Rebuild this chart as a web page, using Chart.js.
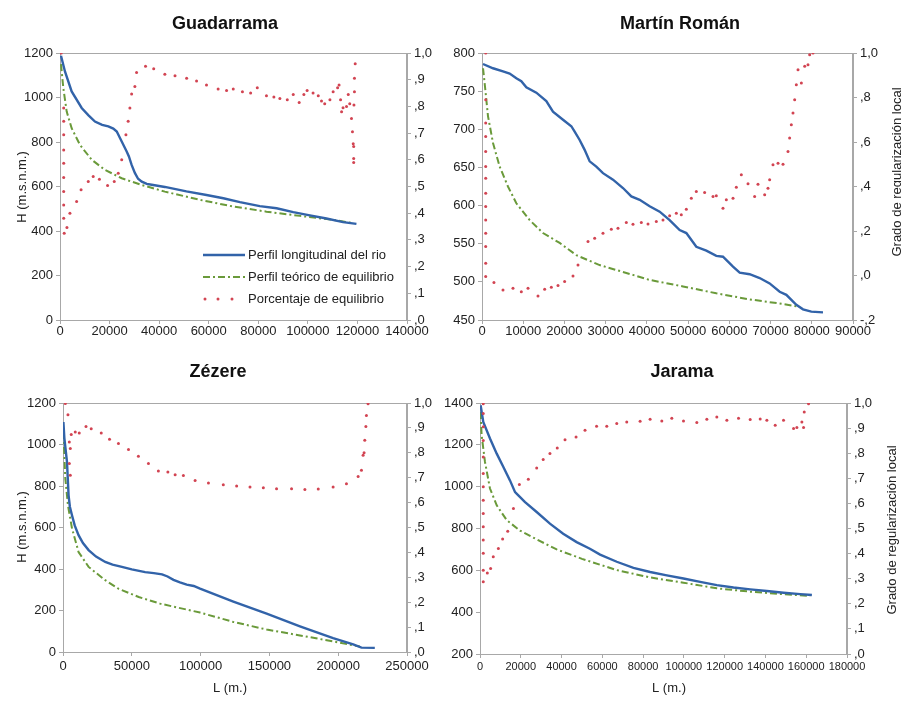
<!DOCTYPE html>
<html><head><meta charset="utf-8">
<script src="https://cdn.jsdelivr.net/npm/chart.js@4.4.1/dist/chart.umd.min.js"></script>
<style>
html,body{margin:0;padding:0;background:#fff;}
body{width:901px;height:702px;position:relative;overflow:hidden;}
canvas{position:absolute;}
</style></head>
<body>
<canvas id="c1" width="450" height="340" style="left:0;top:0"></canvas>
<canvas id="c3" width="440" height="362" style="left:0;top:340px"></canvas>
<canvas id="c2" width="461" height="340" style="left:440px;top:0"></canvas>
<canvas id="c4" width="461" height="362" style="left:440px;top:340px"></canvas>
<script>
// ---------- DATA ----------
const seriesNames = ['Perfil longitudinal del rio', 'Perfil teórico de equilibrio', 'Porcentaje de equilibrio'];
const titles = ['Guadarrama', 'Martín Román', 'Zézere', 'Jarama'];
const leftAxisTitle = 'H (m.s.n.m.)';
const rightAxisTitle = 'Grado de regularización local';
const xAxisTitle = 'L (m.)';

// tick values & labels
const xTicksGua = [0,20000,40000,60000,80000,100000,120000,140000];
const xTicksMar = [0,10000,20000,30000,40000,50000,60000,70000,80000,90000];
const xTicksZez = [0,50000,100000,150000,200000,250000];
const xTicksJar = [0,20000,40000,60000,80000,100000,120000,140000,160000,180000];
const yTicksGua = [0,200,400,600,800,1000,1200];
const yTicksMar = [450,500,550,600,650,700,750,800];
const yTicksZez = [0,200,400,600,800,1000,1200];
const yTicksJar = [200,400,600,800,1000,1200,1400];
const rTicks10 = [0,0.1,0.2,0.3,0.4,0.5,0.6,0.7,0.8,0.9,1.0];
const rLabels10 = [',0',',1',',2',',3',',4',',5',',6',',7',',8',',9','1,0'];
const rTicks2 = [-0.2,0,0.2,0.4,0.6,0.8,1.0];
const rLabels2 = ['-,2',',0',',2',',4',',6',',8','1,0'];

// Guadarrama
const guaPerfil = [[400,1188],[2000,1117],[4700,1027],[8750,953],[11500,920],[14100,892],[17000,877],[19500,870],[21500,860],[22900,847],[24900,802],[26900,757],[27800,735],[28900,697],[30200,661],[31500,635],[33000,622],[35000,612],[37000,608],[42300,598],[51000,578],[59100,562],[65900,547],[72600,530],[80600,512],[87400,502],[94100,485],[100800,470],[107500,456],[114200,440],[119600,432]];
const guaTeorico = [[400,1150],[1330,1043],[2700,937],[4700,862],[8060,787],[12800,720],[18100,675],[24900,637],[32900,607],[42300,577],[56400,540],[69900,510],[83300,487],[96800,468],[110200,450],[118300,435]];
const guaPorcentaje = [[500,1.0],[1500,0.794],[1500,0.744],[1500,0.694],[1500,0.637],[1500,0.587],[1500,0.534],[1500,0.481],[1500,0.431],[1500,0.381],[1700,0.325],[2800,0.346],[4000,0.4],[6700,0.444],[8500,0.4875],[11400,0.519],[13400,0.537],[15900,0.527],[19200,0.504],[21900,0.519],[23500,0.55],[24900,0.6],[26600,0.694],[27500,0.744],[28200,0.794],[28900,0.846],[30200,0.875],[30900,0.927],[34500,0.95],[37800,0.941],[42300,0.92],[46400,0.915],[51100,0.905],[55100,0.895],[59100,0.88],[63800,0.865],[67200,0.86],[69900,0.865],[73600,0.855],[76900,0.85],[79600,0.87],[83300,0.84],[86300,0.835],[88700,0.83],[91700,0.825],[94100,0.845],[96500,0.815],[98400,0.845],[99700,0.86],[102100,0.85],[104200,0.84],[105500,0.82],[106800,0.81],[108900,0.825],[110200,0.855],[112000,0.87],[112600,0.88],[113200,0.825],[113600,0.78],[114200,0.795],[115600,0.80],[116300,0.845],[116900,0.81],[117600,0.755],[118000,0.705],[118300,0.66],[118500,0.65],[118500,0.605],[118500,0.59],[118800,0.855],[118800,0.905],[119100,0.96],[118600,0.805]];

// Martín Román
const marPerfil = [[240,785.6],[2670,780],[5090,776],[6710,773],[8330,767],[9540,763],[10750,755],[13180,748],[15600,737],[17220,723],[19650,712.5],[21670,704],[22480,697],[23690,686],[24900,673],[26120,658],[27730,651],[29350,642.5],[31780,634],[34200,623],[36230,612],[38250,607.5],[40670,599],[43100,592],[45520,581],[47950,568],[49570,564],[51990,546],[54420,541],[56840,534],[58460,533],[60890,520],[62510,512],[64930,510],[67360,505],[69780,498],[72210,487],[73830,483],[76250,470],[77870,464],[79890,461],[82720,460]];
const marTeorico = [[250,780],[650,760],[1460,717],[2670,682],[4290,651],[6300,625],[8330,603],[11560,581],[14800,564],[18840,551],[22880,535],[28540,522],[34200,513],[40670,502.5],[48760,494],[56840,485],[64930,477],[73020,471],[76250,468]];
const marPorcentaje = [[900,1.0],[900,0.79],[900,0.685],[900,0.625],[900,0.5575],[900,0.49],[900,0.4375],[900,0.37],[900,0.31],[900,0.25],[900,0.19],[900,0.13],[900,0.055],[900,-0.005],[2900,-0.032],[5090,-0.065],[7520,-0.0575],[9540,-0.0725],[11160,-0.0575],[13580,-0.092],[15200,-0.062],[16820,-0.053],[18440,-0.0455],[20050,-0.0275],[22080,-0.002],[23290,0.0475],[25710,0.1525],[27330,0.1675],[29350,0.19],[31370,0.208],[32990,0.2125],[35010,0.238],[36630,0.23],[38650,0.238],[40270,0.232],[42290,0.2425],[43910,0.25],[45520,0.268],[47140,0.28],[48350,0.2725],[49570,0.298],[50780,0.3475],[51990,0.3775],[54010,0.373],[56040,0.355],[56840,0.358],[58460,0.3025],[59270,0.34],[60890,0.3475],[61700,0.397],[62910,0.4525],[64530,0.412],[66140,0.355],[66950,0.41],[68570,0.3625],[69380,0.3925],[69780,0.43],[70590,0.4975],[71810,0.505],[73020,0.5005],[74230,0.5575],[74630,0.6175],[75040,0.6775],[75440,0.73],[75850,0.79],[76250,0.8575],[76660,0.925],[77470,0.865],[78280,0.94],[79080,0.9475],[79490,0.9925],[80290,1.0]];

// Zézere
const zezPerfil = [[300,1108],[1000,1030],[2900,916],[4060,755],[5000,700],[6530,659],[8500,610],[11300,563],[14500,525],[18600,491],[24000,460],[30700,434],[36000,421],[42800,410],[50000,398],[59700,385],[66000,380],[72000,374],[76000,364],[80300,348],[85000,336],[89900,325],[95000,318],[99600,305],[123800,243],[148000,185],[172200,124],[196300,67],[210900,37],[216900,21],[226600,20]];
const zezTeorico = [[300,1060],[1670,837],[3600,707],[6530,596],[11300,482],[18600,410],[30700,346],[40300,305],[55000,265],[70600,233],[99600,190],[123800,145],[148000,108],[172200,80],[196300,51],[210900,32],[215700,27]];
const zezPorcentaje = [[1700,0.998],[3600,0.953],[6000,0.873],[4600,0.843],[5300,0.817],[4600,0.757],[5300,0.71],[8900,0.884],[11800,0.88],[16700,0.906],[20500,0.897],[27800,0.88],[33800,0.854],[40300,0.837],[47600,0.813],[54800,0.786],[62100,0.757],[69300,0.727],[76200,0.723],[81500,0.712],[87500,0.709],[96000,0.689],[105700,0.679],[116500,0.672],[126200,0.667],[135900,0.663],[145600,0.66],[155200,0.656],[166100,0.656],[175800,0.653],[185500,0.655],[196300,0.663],[206000,0.676],[214500,0.705],[216900,0.73],[218100,0.79],[218800,0.8],[219300,0.85],[220100,0.906],[220500,0.95],[221700,0.997]];

// Jarama
const jarPerfil = [[300,1389],[1600,1309],[4900,1230],[8200,1158],[11400,1095],[14700,1030],[17200,974],[18800,958],[22100,926],[27800,879],[34300,823],[40800,775],[47400,735],[53900,703],[58900,675],[67080,641],[75260,612],[83440,592],[91620,576],[99800,561],[107980,545],[116160,529],[124340,518],[132520,509],[140700,501],[148870,493],[157050,486],[162780,482]];
const jarTeorico = [[300,1357],[800,1246],[2450,1118],[4900,991],[8200,911],[13100,840],[19600,790],[27800,748],[37600,700],[50000,655],[67080,601],[83440,566],[99800,541],[116160,514],[132520,498],[148870,486],[161960,478]];
const jarPorcentaje = [[1600,0.997],[1600,0.958],[1600,0.905],[1600,0.851],[1600,0.785],[1600,0.719],[1600,0.666],[1600,0.613],[1600,0.56],[1600,0.507],[1600,0.454],[1600,0.401],[1600,0.334],[1600,0.288],[3600,0.323],[5200,0.341],[6500,0.387],[9000,0.42],[11100,0.458],[13600,0.489],[16400,0.58],[19300,0.675],[23700,0.696],[27800,0.741],[31000,0.775],[34300,0.799],[37900,0.821],[41700,0.854],[47100,0.865],[51500,0.891],[57170,0.907],[62170,0.907],[67080,0.918],[71980,0.924],[78530,0.927],[83440,0.935],[89160,0.928],[94070,0.939],[99800,0.928],[106340,0.922],[111250,0.935],[116160,0.944],[121070,0.931],[126790,0.939],[132520,0.934],[137420,0.936],[140700,0.931],[144790,0.911],[148870,0.931],[153780,0.898],[155420,0.902],[157870,0.924],[158690,0.902],[159020,0.964],[161140,0.997]];

// ---------- STYLE ----------
const FONT = "'Liberation Sans', Arial, Helvetica, sans-serif";
const BLUE = '#3263a9', GREEN = '#6a9a3a', RED = '#d24452', AXIS = '#a8a8a8', TXT = '#222';
const DASH = [7,3,2,3];
Chart.defaults.font.family = FONT;
Chart.defaults.color = TXT;

const pts = a => a.map(p => ({x: p[0], y: p[1]}));

const framePlugin = {
  id: 'frame',
  beforeDatasetsDraw(chart) {
    const {ctx, chartArea: a} = chart;
    ctx.save();
    ctx.strokeStyle = AXIS; ctx.lineWidth = 1;
    ctx.strokeRect(Math.round(a.left) + 0.5, Math.round(a.top) + 0.5, Math.round(a.right - a.left) - 1, Math.round(a.bottom - a.top));
    ctx.restore();
  }
};
const textPlugin = {
  id: 'texts',
  afterDraw(chart, args, opts) {
    const ctx = chart.ctx;
    (opts.items || []).forEach(t => {
      ctx.save();
      ctx.font = (t.weight || '') + ' ' + (t.size || 13) + 'px ' + FONT;
      ctx.fillStyle = t.color || TXT;
      ctx.textAlign = 'center'; ctx.textBaseline = 'middle';
      ctx.translate(t.x, t.y);
      if (t.rot) ctx.rotate(t.rot);
      ctx.fillText(t.text, 0, 0);
      ctx.restore();
    });
  }
};
const legendPlugin = {
  id: 'boxLegend',
  afterDraw(chart, args, opts) {
    if (!opts.show) return;
    const ctx = chart.ctx;
    const ds = chart.data.datasets;
    ds.forEach((d, i) => {
      const y = opts.y0 + i * opts.dy;
      ctx.save();
      if (d.showLine) {
        ctx.strokeStyle = d.borderColor; ctx.lineWidth = d.borderWidth;
        ctx.setLineDash(d.borderDash || []);
        ctx.beginPath(); ctx.moveTo(opts.x0, y); ctx.lineTo(opts.x1, y); ctx.stroke();
      } else {
        ctx.fillStyle = d.pointBackgroundColor;
        [opts.x0 + 2, opts.x0 + 15, opts.x0 + 29].forEach(px => {
          ctx.beginPath(); ctx.arc(px, y, d.pointRadius, 0, Math.PI * 2); ctx.fill();
        });
      }
      ctx.setLineDash([]);
      ctx.font = '13px ' + FONT; ctx.fillStyle = TXT;
      ctx.textAlign = 'left'; ctx.textBaseline = 'middle';
      ctx.fillText(d.label, opts.x1 + 3, y);
      ctx.restore();
    });
  }
};

function buildPanel(id, p) {
  const tickFont = {family: FONT, size: 13};
  const grid = {drawOnChartArea: false, drawTicks: true, tickLength: 4, color: AXIS};
  const texts = [{text: p.title, x: p.titleX, y: p.titleY, size: 18, weight: 'bold', color: '#111'}].concat(p.texts);
  return new Chart(document.getElementById(id), {
    type: 'scatter',
    data: {datasets: [
      {label: seriesNames[0], data: pts(p.perfil), showLine: true, borderColor: BLUE, borderWidth: 2.4, pointRadius: 0, yAxisID: 'y', order: 2},
      {label: seriesNames[1], data: pts(p.teorico), showLine: true, borderColor: GREEN, borderWidth: 2, borderDash: DASH, pointRadius: 0, yAxisID: 'y', order: 3},
      {label: seriesNames[2], data: pts(p.porc), showLine: false, pointRadius: 1.5, pointBackgroundColor: RED, pointBorderWidth: 0, yAxisID: 'y2', order: 1}
    ]},
    options: {
      responsive: false, animation: false, events: [],
      layout: {padding: {left: 0, right: p.padR, top: p.padT, bottom: 0}},
      plugins: {
        legend: {display: false}, tooltip: {enabled: false}, title: {display: false},
        texts: {items: texts},
        boxLegend: p.legend || {show: false}
      },
      scales: {
        x: {type: 'linear', position: 'bottom', min: p.xTicks[0], max: p.xTicks[p.xTicks.length - 1],
            afterBuildTicks: s => { s.ticks = p.xTicks.map(v => ({value: v})); },
            afterFit: s => { s.height = p.xH; },
            ticks: {callback: v => String(v), font: {family: FONT, size: p.xFont}, color: TXT, padding: p.xPad, maxRotation: 0, minRotation: 0, autoSkip: false},
            grid: grid, border: {color: AXIS}},
        y: {type: 'linear', position: 'left', min: p.yTicks[0], max: p.yTicks[p.yTicks.length - 1],
            afterBuildTicks: s => { s.ticks = p.yTicks.map(v => ({value: v})); },
            afterFit: s => { s.width = p.yW; },
            ticks: {callback: v => String(v), font: tickFont, color: TXT, padding: 3},
            grid: grid, border: {color: AXIS}},
        y2: {type: 'linear', position: 'right', min: p.rTicks[0], max: p.rTicks[p.rTicks.length - 1],
            afterBuildTicks: s => { s.ticks = p.rTicks.map(v => ({value: v})); },
            afterFit: s => { s.width = p.rW; },
            ticks: {callback: (v, i) => p.rLabels[i], font: tickFont, color: TXT, padding: 3},
            grid: grid, border: {color: AXIS}}
      }
    },
    plugins: [framePlugin, textPlugin, legendPlugin]
  });
}

buildPanel('c1', {
  title: titles[0], titleX: 225, titleY: 24, perfil: guaPerfil, teorico: guaTeorico, porc: guaPorcentaje,
  xTicks: xTicksGua, yTicks: yTicksGua, rTicks: rTicks10, rLabels: rLabels10,
  padT: 53, padR: 0, yW: 60, rW: 43, xH: 20, xPad: 0, xFont: 13,
  texts: [{text: leftAxisTitle, x: 22, y: 187, rot: -Math.PI / 2}],
  legend: {show: true, x0: 203, x1: 245, y0: 255, dy: 22}
});
buildPanel('c2', {
  title: titles[1], titleX: 240, titleY: 24, perfil: marPerfil, teorico: marTeorico, porc: marPorcentaje,
  xTicks: xTicksMar, yTicks: yTicksMar, rTicks: rTicks2, rLabels: rLabels2,
  padT: 53, padR: 0, yW: 42, rW: 48, xH: 20, xPad: 0, xFont: 13,
  texts: [{text: rightAxisTitle, x: 457, y: 172, rot: -Math.PI / 2}]
});
buildPanel('c3', {
  title: titles[2], titleX: 218, titleY: 32, perfil: zezPerfil, teorico: zezTeorico, porc: zezPorcentaje,
  xTicks: xTicksZez, yTicks: yTicksZez, rTicks: rTicks10, rLabels: rLabels10,
  padT: 63, padR: 4, yW: 63, rW: 29, xH: 50, xPad: 3, xFont: 13,
  texts: [{text: leftAxisTitle, x: 22, y: 187, rot: -Math.PI / 2}, {text: xAxisTitle, x: 230, y: 348}]
});
buildPanel('c4', {
  title: titles[3], titleX: 242, titleY: 32, perfil: jarPerfil, teorico: jarTeorico, porc: jarPorcentaje,
  xTicks: xTicksJar, yTicks: yTicksJar, rTicks: rTicks10, rLabels: rLabels10,
  padT: 63, padR: 0, yW: 40, rW: 54, xH: 48, xPad: 2, xFont: 11,
  texts: [{text: rightAxisTitle, x: 452, y: 190, rot: -Math.PI / 2}, {text: xAxisTitle, x: 229, y: 348}]
});
</script>
</body></html>
